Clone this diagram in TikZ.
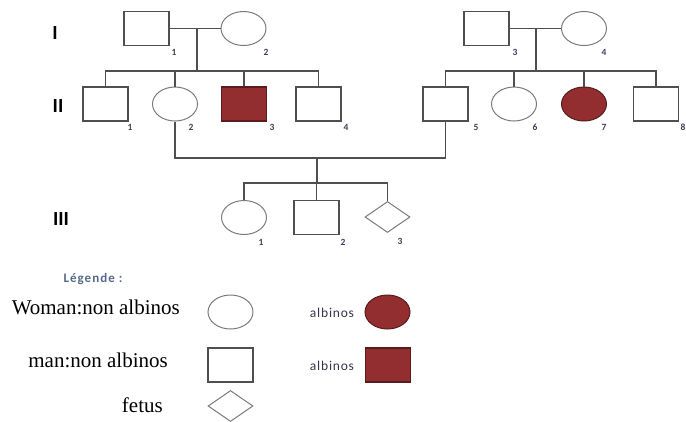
\documentclass[tikz,border=0pt]{standalone}
\usepackage{fontspec}
\setmainfont{Liberation Serif}
\setsansfont{Carlito}
\usetikzlibrary{shapes.geometric,positioning,calc}
\definecolor{pred}{HTML}{922E2F}
\definecolor{pline}{HTML}{4F4F4F}
\definecolor{pring}{HTML}{7A7A7A}
\definecolor{pnum}{HTML}{3E3E58}
\definecolor{ptag}{HTML}{56688A}

\begin{document}
\begin{tikzpicture}[x=1pt,y=-1pt,
  man/.style={draw=pline,line width=1.1pt,minimum width=45pt,minimum height=34pt,inner sep=0pt},
  woman/.style={ellipse,draw=pring,line width=1pt,minimum width=45pt,minimum height=34pt,inner sep=0pt},
  fetus/.style={diamond,draw=pring,line width=1pt,minimum width=45pt,minimum height=31pt,inner sep=0pt},
  sick/.style={fill=pred,draw=pred!60!black},
  num/.style={font=\sffamily\bfseries\fontsize{9.5}{9.5}\selectfont,text=pnum,inner sep=0pt},
  gen/.style={font=\sffamily\bfseries\fontsize{20}{20}\selectfont,inner sep=0pt},
  link/.style={draw=pline,line width=1.2pt},
  key/.style={font=\fontsize{21}{21}\selectfont,anchor=east,inner sep=0pt},
  tag/.style={font=\sffamily\fontsize{13.5}{13.5}\selectfont\addfontfeature{LetterSpace=6},
              text=pnum!85!black,inner sep=0pt}]

  \useasboundingbox (0,0) rectangle (686,421);

  % generation I
  \node[gen] (gI) at (55,33) {I};
  \node[man] (i1) at (146.5,28.5) {};
  \node[woman] (i2) at (243.5,28.5) {};
  \node[man] (i3) at (486.5,28.5) {};
  \node[woman] (i4) at (584,28.5) {};
  \node[num] (n-i1) at ($(i1.south)+(27.5,6)$) {1};
  \node[num] (n-i2) at ($(i2.south)+(22.5,6)$) {2};
  \node[num] (n-i3) at ($(i3.south)+(28.5,6)$) {3};
  \node[num] (n-i4) at ($(i4.south)+(20,6)$) {4};

  % generation II
  \node[gen] (gII) at (58,106) {II};
  \node[man] (ii1) at (105.5,104) {};
  \node[woman] (ii2) at (175,104) {};
  \node[man,sick] (ii3) at (244,104) {};
  \node[man] (ii4) at (318.5,104) {};
  \node[man] (ii5) at (445.5,104) {};
  \node[woman] (ii6) at (514,104) {};
  \node[woman,sick] (ii7) at (584,104) {};
  \node[man] (ii8) at (656,104) {};
  \node[num] (n-ii1) at ($(ii1.south)+(24.5,6)$) {1};
  \node[num] (n-ii2) at ($(ii2.south)+(16,6)$) {2};
  \node[num] (n-ii3) at ($(ii3.south)+(28,6)$) {3};
  \node[num] (n-ii4) at ($(ii4.south)+(27.5,6)$) {4};
  \node[num] (n-ii5) at ($(ii5.south)+(30.5,6)$) {5};
  \node[num] (n-ii6) at ($(ii6.south)+(21,6)$) {6};
  \node[num] (n-ii7) at ($(ii7.south)+(20,6)$) {7};
  \node[num] (n-ii8) at ($(ii8.south)+(27,6)$) {8};

  % generation III
  \node[gen] (gIII) at (61,219) {III};
  \node[woman] (iii1) at (244,217.5) {};
  \node[man] (iii2) at (316.5,217.5) {};
  \node[fetus] (iii3) at (387.5,217) {};
  \node[num] (n-iii1) at ($(iii1.south)+(17,7)$) {1};
  \node[num] (n-iii2) at ($(iii2.south)+(26.5,7)$) {2};
  \node[num] (n-iii3) at ($(iii3.south)+(12.5,8.5)$) {3};

  % unions and sibships
  \coordinate (m1) at (197,28.5);
  \coordinate (j1) at (197,71);
  \coordinate (m2) at (536,28.5);
  \coordinate (j2) at (536,71);
  \coordinate (u3) at (317,158);
  \coordinate (j3) at (317,183);

  \draw[link] (i1) -- (i2); \draw[link] (m1) -- (j1);
  \draw[link] (ii1.north) |- (j1) -| (ii4.north);
  \draw[link] (ii2.north) -- (ii2.north |- j1);
  \draw[link] (ii3.north) -- (ii3.north |- j1);

  \draw[link] (i3) -- (i4); \draw[link] (m2) -- (j2);
  \draw[link] (ii5.north) |- (j2) -| (ii8.north);
  \draw[link] (ii6.north) -- (ii6.north |- j2);
  \draw[link] (ii7.north) -- (ii7.north |- j2);

  \draw[link] (ii2.south) |- (u3) -| (ii5.south);
  \draw[link] (u3) -- (j3);
  \draw[link] (iii1.north) |- (j3) -| (iii3.north);
  \draw[link] (iii2.north) -- (iii2.north |- j3);

  % legend
  \node[tag,font=\sffamily\bfseries\fontsize{13}{13}\selectfont\addfontfeature{LetterSpace=8},
        text=ptag] (leg) at (93,279) {Légende :};
  \node[key] (k-w) at (180,307) {Woman:non albinos};
  \node[key] (k-m) at (168,360) {man:non albinos};
  \node[key] (k-f) at (163,405) {fetus};
  \node[woman] (l-w) at (230.5,312) {};
  \node[man] (l-m) at (230.5,365) {};
  \node[fetus] (l-f) at (230.5,406) {};
  \node[tag] (k-wa) at (332,313) {albinos};
  \node[tag] (k-ma) at (332,366) {albinos};
  \node[woman,sick] (l-wa) at (387.5,312) {};
  \node[man,sick] (l-ma) at (388,365) {};
\end{tikzpicture}
\end{document}
